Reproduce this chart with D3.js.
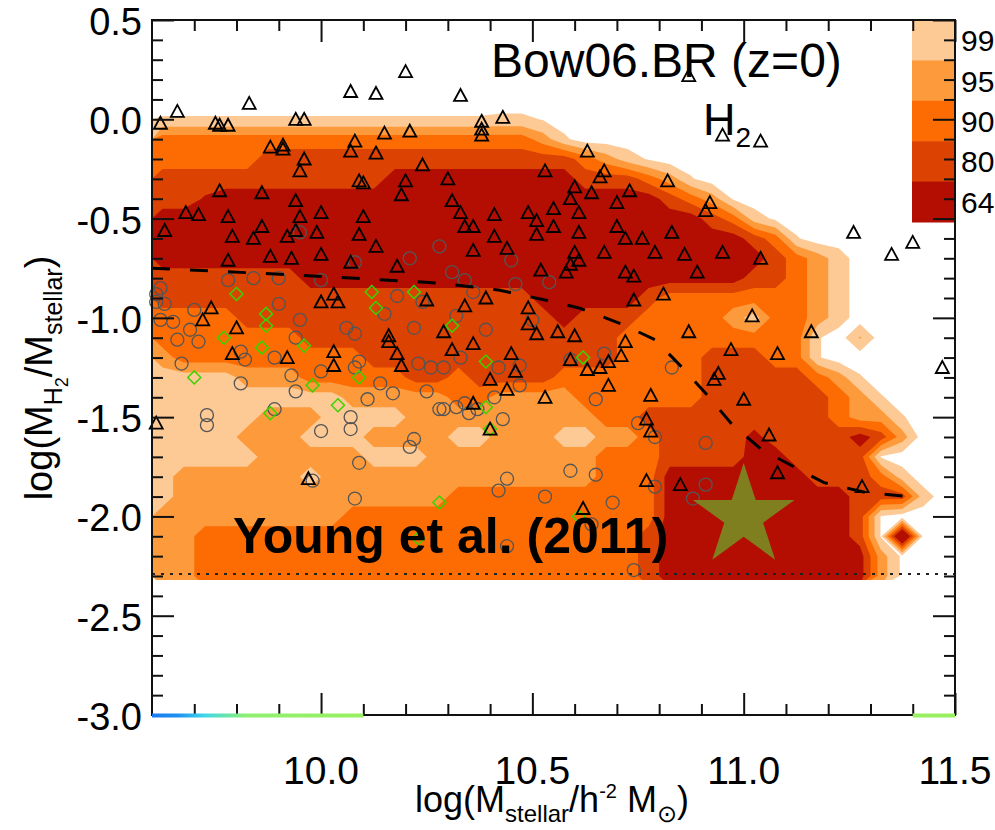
<!DOCTYPE html>
<html>
<head>
<meta charset="utf-8">
<script src="https://cdn.jsdelivr.net/npm/d3@7"></script>
<style>
  body { margin: 0; background: #fff; }
  svg { display: block; font-family: "Liberation Sans", Arial, Helvetica, sans-serif; }
</style>
</head>
<body>
<svg id="chart" width="995" height="830"></svg>
<script>
// Percentile levels of the model distribution (outermost first)
const levelLabels = ["99", "95", "90", "80", "64"];
const levelColors = ["#fdc995", "#fd9b3c", "#fd6c02", "#dc4202", "#b40e02"];
const levelThresholds = [0.5, 1.5, 2.5, 3.5, 4.5];

// Model level map: 38 columns (9.6 -> 11.5), 25 rows (0.15 -> -2.35)
// 0 = outside, 1 = 99%, 2 = 95%, 3 = 90%, 4 = 80%, 5 = 64%
const gridXRange = [9.6, 11.5];
const gridYRange = [0.15, -2.35];
const levelGrid = [
  "0 0 0 0 0 0 0 0 0 0 0 0 0 0 0 0 0 0 0 0 0 0 0 0 0 0 0 0 0 0 0 0 0 0 0 0 0 0",
  ".6 .6 .6 .6 .6 .6 .6 .6 .6 .6 .6 .6 .6 .6 .6 .6 .7 .7 .45 0 0 0 0 0 0 0 0 0 0 0 0 0 0 0 0 0 0 0",
  "3 3 3 3 3 3 3 3 3 3 3 3 3 3 3 3 3 3 2 .7 0 0 0 0 0 0 0 0 0 0 0 0 0 0 0 0 0 0",
  "3 3 3 3 3 4 4 4 4 4 4 4 4 4 4 4 4 4 4 4 3 2 1 .4 0 0 0 0 0 0 0 0 0 0 0 0 0 0",
  "4 4 4 4 4 4 4 4 4 4 4 5 5 5 5 5 5 5 5 5 4 4 4 3 2 .6 0 0 0 0 0 0 0 0 0 0 0 0",
  "4 4 4.6 5 5 5 5 5 5 5 5 5 5 5 5 5 5 5 5 5 5 5 5 5 4 3 2 .4 0 0 0 0 0 0 0 0 0 0",
  "5 5 5 5 5 5 5 5 5 5 5 5 5 5 5 5 5 5 5 5 5 5 5 5 5 5 4 3 1 .3 0 0 0 0 0 0 0 0",
  "5 5 5 5 5 5 5 5 5 5 5 5 5 5 5 5 5 5 5 5 5 5 5 5 5 5 5 5 4 3 .6 0 0 0 0 0 0 0",
  "5 5 5 5 5 5 5 5 5 5 5 5 5 5 5 5 5 5 5 5 5 5 5 5 5 5 5 5 5 4 3 2 1 0 0 0 0 0",
  "4 4 4 4 4 4 4 5 5 5 5 5 5 5 5 5 5 5 5 5 5 5 5 5 5 5 5 5 4 4 3 2 1 0 0 0 0 0",
  "4 4 4 4 4 4 4 4 4 4 4 4 4 4 4 4 4 4 5 5 5 5 5 4 3 3 3 3 3 3 3 2 1 0 0 0 0 0",
  "3 3 3 3 4 4 4 4 4 4 4 4 4 4 4 4 4 4 4 5 4 4 4 3 3 3 3 2 1 3 3 2 1 0 0 0 0 0",
  "3 3 3 3 3 3 3 4 4 4 4 4 4 4 4 4 4 4 4 4 4 4 3 3 3 3 3 3 3 3 3 .6 0 1.6 0 0 0 0",
  "2 3 3 3 3 3 3 3 3 3 4 4 4 4 4 4 4 4 4 4 4 4 3 3 3 3 4 4 4 3 3 .6 0 0 0 0 0 0",
  "1 1 1 1 2 2 2 3 3 3 3 3 4 4 3 4 4 4 4 3 3 3 3 3 3 3 4 4 4 4 4 3 2 .6 0 0 0 0",
  "1 1 1 1 1 1 1 1 1 2 2 2 2 2 3 3 2 2 2 2 3 3 3 3 3 3 4 4 4 4 4 4 3 2 .6 0 0 0",
  "1 1 1 1 1 2 2 2 1 1 1 1 2 2 2 2 2 2 2 2 2 3 3 4 4 4 4 4 4 4 4 4 3 2 2 .6 0 0",
  "1 1 1 1 2 2 2 1 1 1 2 2 2 2 1 1 2 2 2 1 1 2 2 3 4 4 4 4 4.8 4 4 4 4 5 4 2 0 0",
  "1 1 1 1 1 2 2 2 2 2 1 1 1 2 2 2 2 2 2 2 2 3 3 3 4 4 4 4 5 5 4 4 4 4 .4 0 0 0",
  "1 2 2 2 2 2 2 1 2 2 2 2 2 2 2 2 2 2 2 2 2 3 3 3 5 5 5 5 5 5 5 4 4 4 3 1 0 0",
  "1 2 2 2 2 2 2 2 2 2 2 2 2 2 3 3 3 3 3 3 3 3 3 3 5 5 5 5 5 5 5 5 5 4 4 4 1 0",
  "2 2 2 2 2 2 2 2 2 3 3 3 3 3 3 3 3 3 3 3 3 3 3 3 5 5 5 5 5 5 5 5 5 4 .4 0 0 0",
  "2 2 3 3 3 3 3 3 3 3 3 3 3 3 3 3 3 3 3 3 3 3 3 4 5 5 5 5 5 5 5 5 5 4 .4 7 .3 0",
  "2 2 3 3 3 3 3 3 3 3 3 3 3 3 3 3 3 3 3 3 3 3 3 4 5 5 5 5 5 5 5 5 5 5 2 .3 0 0",
  "2 2 3 3 3 3 3 3 3 3 3 3 3 3 3 3 3 3 3 3 3 3 3 4 5 5 5 5 5 5 5 5 5 5 2 .3 0 0"
];
const gridCutoff = -2.32;

// Observed galaxies [log Mstar, log MH2/Mstar]
const triangleGals = [
  [9.62,-0.02],[9.66,0.04],[9.83,0.08],[9.75,-0.02],[9.76,-0.03],[9.78,-0.03],[9.94,0.00],[9.96,0.00],
  [9.88,-0.14],[9.91,-0.13],[9.91,-0.15],[10.08,-0.11],[10.07,-0.16],[10.15,-0.07],[10.21,-0.06],[10.13,-0.17],
  [9.96,-0.20],[9.95,-0.26],[10.24,-0.23],[10.09,-0.31],[10.10,-0.32],[10.20,-0.31],[10.19,-0.38],[9.76,-0.36],
  [9.86,-0.37],[9.94,-0.41],[9.68,-0.47],[9.71,-0.48],[9.78,-0.49],[9.86,-0.54],[9.95,-0.49],[10.00,-0.47],
  [10.10,-0.49],[9.63,-0.56],[9.79,-0.59],[9.84,-0.60],[9.92,-0.59],[9.94,-0.56],[9.99,-0.57],[10.09,-0.58],
  [10.13,-0.64],[9.78,-0.71],[9.88,-0.69],[9.93,-0.70],[10.00,-0.68],[10.07,-0.72],[10.18,-0.74],[10.00,-0.92],
  [10.03,-0.88],[10.04,-0.92],[10.25,-0.91],[9.74,-0.95],[9.72,-1.01],[9.80,-1.05],[10.16,-1.09],[10.16,-1.12],
  [10.18,-1.18],[10.19,-1.24],[9.79,-1.18],[9.92,-1.20],[10.03,-1.17],[10.03,-1.24],[9.61,-1.53],[9.97,-1.81],
  [10.34,-0.94],[10.49,-0.95],[10.49,-1.03],[10.51,-1.08],[10.56,-1.07],[10.60,-1.09],[10.29,-1.07],[10.31,-1.16],
  [10.36,-1.13],[10.45,-1.18],[10.46,-1.27],[10.40,-1.31],[10.44,-1.36],[10.53,-1.40],[10.59,-1.21],[10.63,-1.26],
  [10.66,-1.25],[10.68,-1.22],[10.71,-1.19],[10.72,-1.12],[10.68,-1.34],[10.74,-0.91],[10.87,-1.07],[10.97,-1.16],
  [10.94,-1.28],[10.93,-1.31],[10.78,-1.39],[10.77,-1.51],[10.78,-1.57],[10.36,-1.43],[10.40,-1.56],[10.77,-1.82],
  [10.85,-1.84],[10.62,-1.96],
  [10.38,-0.01],[10.38,-0.05],[10.38,-0.08],[10.43,0.01],[10.63,-0.16],[10.53,-0.26],[10.66,-0.29],[10.67,-0.26],
  [10.30,-0.30],[10.82,-0.31],[10.92,-0.42],[10.91,-0.46],[10.60,-0.34],[10.59,-0.40],[10.64,-0.37],[10.73,-0.36],
  [10.70,-0.42],[10.31,-0.41],[10.33,-0.47],[10.41,-0.48],[10.49,-0.47],[10.51,-0.51],[10.55,-0.45],[10.61,-0.47],
  [10.34,-0.54],[10.36,-0.54],[10.41,-0.59],[10.51,-0.58],[10.55,-0.54],[10.61,-0.57],[10.70,-0.54],[10.72,-0.60],
  [10.76,-0.60],[10.83,-0.57],[10.36,-0.66],[10.44,-0.65],[10.60,-0.67],[10.61,-0.71],[10.59,-0.73],[10.58,-0.77],
  [10.67,-0.67],[10.79,-0.67],[10.86,-0.68],[10.95,-0.67],[10.52,-0.76],[10.72,-0.77],[10.74,-0.79],[10.89,-0.77],
  [10.39,-0.90],[10.81,-0.88],
  [11.04,-0.70],[11.26,-0.57],[11.35,-0.68],[11.40,-0.62],[11.02,-0.99],[11.16,-1.07],[11.08,-1.18],[11.00,-1.41],
  [11.47,-1.25],[11.06,-1.59],[11.08,-1.78],[11.28,-1.85],
  [10.33,0.12],[10.87,0.22],[10.95,-0.08],[11.04,-0.11],[10.20,0.24],[10.07,0.14],[10.13,0.13]
];
const circleGals = [
  [9.95,-0.57],[10.08,-0.72],[10.21,-0.70],[10.28,-0.64],[9.62,-0.85],[9.61,-0.88],[9.78,-0.81],[9.84,-0.80],
  [9.90,-0.80],[10.00,-0.81],[9.63,-0.93],[9.61,-0.92],[9.70,-0.96],[9.90,-0.93],[10.18,-0.89],[10.24,-0.92],
  [9.62,-1.01],[9.65,-1.02],[9.69,-1.06],[9.95,-1.01],[10.15,-0.98],[10.06,-1.05],[10.08,-1.08],[10.22,-1.05],
  [9.66,-1.11],[9.71,-1.12],[9.94,-1.10],[9.81,-1.17],[9.82,-1.21],[9.89,-1.20],[9.67,-1.23],[9.93,-1.29],
  [10.00,-1.27],[10.09,-1.22],[10.08,-1.25],[10.26,-1.25],[10.23,-1.23],[9.81,-1.33],[9.94,-1.37],[10.14,-1.33],
  [10.17,-1.38],[10.11,-1.41],[10.25,-1.37],[10.28,-1.46],[9.73,-1.49],[9.73,-1.54],[9.89,-1.46],[10.07,-1.50],
  [10.07,-1.56],[10.00,-1.57],[10.22,-1.61],[10.21,-1.65],[10.09,-1.73],[9.98,-1.82],[10.08,-1.91],
  [10.32,-0.99],[10.39,-1.06],[10.50,-1.01],[10.33,-1.20],[10.29,-1.25],[10.42,-1.25],[10.47,-1.24],[10.47,-1.34],
  [10.59,-1.21],[10.67,-1.18],[10.83,-1.25],[10.41,-1.40],[10.29,-1.46],[10.32,-1.45],[10.34,-1.43],[10.35,-1.48],
  [10.37,-1.46],[10.43,-1.51],[10.65,-1.41],[10.75,-1.53],[10.79,-1.60],[10.91,-1.63],[10.44,-1.81],[10.42,-1.87],
  [10.53,-1.90],[10.59,-1.77],[10.65,-1.79],[10.69,-1.93],[10.79,-1.85],[10.88,-1.91],[10.91,-1.84],[10.44,-2.15],
  [10.74,-2.27],[10.64,-2.04],
  [10.45,-0.71],[10.31,-0.77],[10.34,-0.81],[10.46,-0.83],[10.54,-0.82],[10.36,-0.87]
];
const diamondGals = [
  [9.80,-0.88],[9.87,-0.98],[9.87,-1.04],[9.77,-1.10],[9.86,-1.15],[10.12,-0.87],[10.13,-0.95],[10.22,-0.87],
  [9.96,-1.14],[9.70,-1.30],[9.98,-1.34],[10.09,-1.30],[10.04,-1.44],[9.88,-1.48],[10.28,-1.93],[10.31,-1.04],
  [10.39,-1.22],[10.62,-1.20],[10.39,-1.45],[10.40,-1.56],[10.61,-2.00],[10.23,-2.11]
];

// Median of the observed sample (dashed)
const medianLine = [
  [9.60,-0.75],[9.95,-0.785],[10.28,-0.825],[10.42,-0.86],[10.53,-0.91],[10.61,-0.95],[10.71,-1.03],[10.79,-1.11],
  [10.85,-1.24],[10.91,-1.38],[10.97,-1.53],[11.04,-1.66],[11.11,-1.74],[11.19,-1.83],[11.29,-1.88],[11.39,-1.90]
];
const detectionLimit = -2.29;
const youngStar = [[11.0, -2.0]];

// Axis ticks
const xMajor = [10.0, 10.5, 11.0, 11.5];
const xMinor = [9.7, 9.8, 9.9, 10.1, 10.2, 10.3, 10.4, 10.6, 10.7, 10.8, 10.9, 11.1, 11.2, 11.3, 11.4];
const yMajor = [0.5, 0.0, -0.5, -1.0, -1.5, -2.0, -2.5, -3.0];
const yMinor = [0.4, 0.3, 0.2, 0.1, -0.1, -0.2, -0.3, -0.4, -0.6, -0.7, -0.8, -0.9, -1.1, -1.2, -1.3, -1.4,
  -1.6, -1.7, -1.8, -1.9, -2.1, -2.2, -2.3, -2.4, -2.6, -2.7, -2.8, -2.9];

// left-over colour bar strip along the bottom axis
const stripRuns = [[9.6, 10.1], [11.4, 11.5]];

const svg = d3.select("#chart");
const x = d3.scaleLinear().domain([9.6, 11.5]).range([152, 955]);
const y = d3.scaleLinear().domain([-3.0, 0.5]).range([715, 20]);

// Filled contours of the model
const nx = 38, ny = levelGrid.length;
const values = levelGrid.flatMap(r => {
  const row = r.trim().split(/\s+/).map(Number);
  while (row.length < nx) row.push(0);
  return row.slice(0, nx);
});
const gx = d3.scaleLinear().domain([0, nx]).range(gridXRange);
const gy = d3.scaleLinear().domain([0, ny]).range(gridYRange);
const contourPath = d3.geoPath(d3.geoTransform({
  point(px, py) { this.stream.point(x(gx(px)), y(gy(py))); }
}));
const bands = d3.contours().size([nx, ny]).thresholds(levelThresholds)(values);

svg.append("clipPath").attr("id", "plotClip")
  .append("rect")
  .attr("x", x(9.6)).attr("y", y(0.5))
  .attr("width", x(11.5) - x(9.6)).attr("height", y(gridCutoff) - y(0.5));

svg.append("g").attr("clip-path", "url(#plotClip)")
  .selectAll("path")
  .data(bands)
  .join("path")
  .attr("d", contourPath)
  .attr("fill", (d, i) => levelColors[i]);

// H2 detection limit
svg.append("line")
  .attr("x1", x(9.6)).attr("x2", x(11.5))
  .attr("y1", y(detectionLimit)).attr("y2", y(detectionLimit))
  .attr("stroke", "#222").attr("stroke-width", 2)
  .attr("stroke-dasharray", "3,6");

// observed galaxies
svg.append("g").selectAll("circle")
  .data(circleGals)
  .join("circle")
  .attr("cx", d => x(d[0])).attr("cy", d => y(d[1]))
  .attr("r", 6.5)
  .attr("fill", "none").attr("stroke", "#555").attr("stroke-width", 1.3);

svg.append("g").selectAll("path")
  .data(diamondGals)
  .join("path")
  .attr("transform", d => `translate(${x(d[0])},${y(d[1])})`)
  .attr("d", "M0,-6.5L6.5,0L0,6.5L-6.5,0Z")
  .attr("fill", "none").attr("stroke", "#39d400").attr("stroke-width", 1.5);

svg.append("g").selectAll("path")
  .data(triangleGals)
  .join("path")
  .attr("transform", d => `translate(${x(d[0])},${y(d[1])})`)
  .attr("d", "M0,-6.5L6.5,5.5L-6.5,5.5Z")
  .attr("fill", "none").attr("stroke", "#000").attr("stroke-width", 1.8)
  .attr("stroke-linejoin", "miter");

// median line
svg.append("path")
  .datum(medianLine)
  .attr("d", d3.line().x(d => x(d[0])).y(d => y(d[1])))
  .attr("fill", "none").attr("stroke", "#000").attr("stroke-width", 3)
  .attr("stroke-dasharray", "18,20");

// Young et al. (2011) point
svg.append("g").selectAll("path")
  .data(youngStar)
  .join("path")
  .attr("transform", d => `translate(${x(d[0])},${y(d[1])})`)
  .attr("d", d3.symbol(d3.symbolStar, 3210))
  .attr("fill", "#7f7f1f");

svg.append("text")
  .attr("x", 233).attr("y", 553)
  .attr("font-size", 50).attr("font-weight", "bold")
  .text("Young et al. (2011)");

// legend
const legendY = d3.scaleBand().domain(levelLabels).range([20, 222]);
const legend = svg.append("g");
legend.selectAll("rect")
  .data(levelLabels)
  .join("rect")
  .attr("x", 912).attr("y", d => legendY(d))
  .attr("width", 42).attr("height", legendY.bandwidth() + 0.5)
  .attr("fill", (d, i) => levelColors[i]);
legend.selectAll("text")
  .data(levelLabels)
  .join("text")
  .attr("x", 961).attr("y", d => legendY(d) + legendY.bandwidth() / 2 + 11)
  .attr("font-size", 30)
  .text(d => d);

// frame and ticks (inward on all sides)
function tickSet(axis, translate, values, size) {
  const g = svg.append("g").attr("transform", translate)
    .call(axis.tickValues(values).tickSize(-size).tickSizeOuter(0).tickFormat(""));
  g.select(".domain").remove();
  g.selectAll("line").attr("stroke", "#111").attr("stroke-width", 2);
}
tickSet(d3.axisBottom(x), `translate(0,${y(-3.0)})`, xMinor, 11);
tickSet(d3.axisBottom(x), `translate(0,${y(-3.0)})`, xMajor, 22);
tickSet(d3.axisTop(x), `translate(0,${y(0.5)})`, xMinor, 11);
tickSet(d3.axisTop(x), `translate(0,${y(0.5)})`, xMajor, 22);
tickSet(d3.axisLeft(y), `translate(${x(9.6)},0)`, yMinor, 11);
tickSet(d3.axisLeft(y), `translate(${x(9.6)},0)`, yMajor, 22);
tickSet(d3.axisRight(y), `translate(${x(11.5)},0)`, yMinor, 11);
tickSet(d3.axisRight(y), `translate(${x(11.5)},0)`, yMajor, 22);

svg.append("rect")
  .attr("x", x(9.6)).attr("y", y(0.5))
  .attr("width", x(11.5) - x(9.6)).attr("height", y(-3.0) - y(0.5))
  .attr("fill", "none").attr("stroke", "#111").attr("stroke-width", 2);

// bottom colour strip (drawn over the axis line)
const stripGrad = svg.append("defs").append("linearGradient").attr("id", "stripGrad");
stripGrad.selectAll("stop")
  .data([["0%", "#1a7cf0"], ["12%", "#1e90f0"], ["25%", "#40d8e8"], ["45%", "#90f070"], ["100%", "#98f060"]])
  .join("stop").attr("offset", d => d[0]).attr("stop-color", d => d[1]);
svg.append("g").selectAll("rect")
  .data(stripRuns)
  .join("rect")
  .attr("x", d => x(d[0])).attr("width", d => x(d[1]) - x(d[0]))
  .attr("y", y(-3.0) - 1.5).attr("height", 4)
  .attr("fill", (d, i) => i === 0 ? "url(#stripGrad)" : "#98f060");

// tick labels
svg.append("g").selectAll("text")
  .data(xMajor)
  .join("text")
  .attr("x", d => x(d)).attr("y", 784)
  .attr("text-anchor", "middle").attr("font-size", 39)
  .text(d => d.toFixed(1));
svg.append("g").selectAll("text")
  .data(yMajor)
  .join("text")
  .attr("x", 142).attr("y", d => y(d) + 15)
  .attr("text-anchor", "end").attr("font-size", 38)
  .text(d => d.toFixed(1));

// axis titles
const xTitle = svg.append("text")
  .attr("x", 552).attr("y", 812)
  .attr("text-anchor", "middle").attr("font-size", 36);
xTitle.append("tspan").text("log(M");
xTitle.append("tspan").attr("font-size", 24).attr("dy", 10).text("stellar");
xTitle.append("tspan").attr("dy", -10).text("/h");
xTitle.append("tspan").attr("font-size", 20).attr("dy", -14).text("-2");
xTitle.append("tspan").attr("dy", 14).text(" M");
xTitle.append("tspan").attr("font-size", 24).attr("dy", 10).text("\u2299");
xTitle.append("tspan").attr("dy", -10).text(")");

const yTitle = svg.append("text")
  .attr("transform", "translate(52,378) rotate(-90)")
  .attr("text-anchor", "middle").attr("font-size", 38);
yTitle.append("tspan").text("log(M");
yTitle.append("tspan").attr("font-size", 25).attr("dy", 10).text("H");
yTitle.append("tspan").attr("font-size", 18).attr("dy", 6).text("2");
yTitle.append("tspan").attr("dy", -16).text("/M");
yTitle.append("tspan").attr("font-size", 25).attr("dy", 10).text("stellar");
yTitle.append("tspan").attr("dy", -10).text(")");

// panel labels
svg.append("text")
  .attr("x", 491).attr("y", 77).attr("font-size", 48)
  .text("Bow06.BR (z=0)");
const h2 = svg.append("text").attr("x", 703).attr("y", 135).attr("font-size", 45);
h2.append("tspan").text("H");
h2.append("tspan").attr("font-size", 28).attr("dy", 12).text("2");
</script>
</body>
</html>
